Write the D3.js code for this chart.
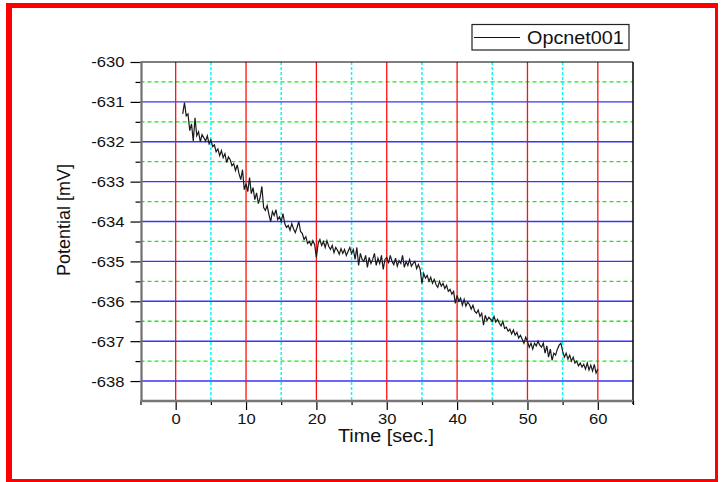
<!DOCTYPE html>
<html>
<head>
<meta charset="utf-8">
<script src="https://cdn.jsdelivr.net/npm/d3@7"></script>
<style>
  body { margin: 0; background: #fff; }
  text { font-family: "Liberation Sans", Arial, sans-serif; fill: #111; }
</style>
</head>
<body>
<script>
// sampled potential, one value every 0.25 s starting at t = 1 s
var startTime = 1,
    timeStep  = 0.25;

var potential = [
  -631.30, -631.02, -631.35, -631.30,
  -631.72, -631.55, -631.98, -631.40,
  -631.85, -631.75, -632.00, -631.82,
  -631.90, -631.98, -631.85, -632.05,
  -631.95, -632.12, -632.08, -632.25,
  -632.18, -632.35, -632.22, -632.40,
  -632.30, -632.52, -632.38, -632.45,
  -632.60, -632.55, -632.72, -632.58,
  -632.80, -632.95, -632.70, -633.20,
  -633.05, -633.25, -632.90, -633.30,
  -633.15, -633.45, -633.28, -633.55,
  -633.40, -633.12, -633.65, -633.72,
  -633.60, -633.82, -634.00, -633.75,
  -633.85, -633.70, -633.95, -633.88,
  -634.00, -633.80, -634.05, -634.15,
  -634.10, -634.22, -634.05, -634.18,
  -634.28, -634.15, -634.00, -634.25,
  -634.30, -634.45, -634.38, -634.55,
  -634.50, -634.60, -634.48, -634.58,
  -634.90, -634.55, -634.45, -634.60,
  -634.50, -634.65, -634.48, -634.62,
  -634.70, -634.60, -634.78, -634.65,
  -634.72, -634.82, -634.68, -634.80,
  -634.70, -634.85, -634.75, -634.65,
  -634.80, -634.70, -634.95, -634.65,
  -635.10, -634.80, -634.95, -635.00,
  -634.85, -635.15, -634.90, -635.05,
  -634.95, -634.80, -635.10, -634.92,
  -635.05, -634.85, -635.20, -634.95,
  -634.90, -635.05, -634.85, -635.00,
  -635.08, -634.92, -635.12, -634.98,
  -635.05, -634.85, -635.15, -635.00,
  -635.10, -634.95, -635.12, -635.05,
  -635.00, -635.18, -635.08, -635.20,
  -635.55, -635.30, -635.42, -635.35,
  -635.50, -635.40, -635.55, -635.45,
  -635.58, -635.65, -635.50, -635.62,
  -635.55, -635.68, -635.60, -635.75,
  -635.70, -635.82, -635.75, -636.05,
  -635.85, -636.00, -635.92, -636.10,
  -635.95, -636.12, -636.02, -636.08,
  -636.20, -636.10, -636.25, -636.30,
  -636.22, -636.38, -636.30, -636.60,
  -636.35, -636.48, -636.40, -636.45,
  -636.50, -636.38, -636.52, -636.45,
  -636.55, -636.62, -636.50, -636.68,
  -636.65, -636.75, -636.70, -636.82,
  -636.72, -636.85, -636.78, -636.92,
  -636.85, -636.95, -637.05, -636.90,
  -637.00, -637.15, -637.05, -637.20,
  -637.05, -637.12, -637.00, -637.10,
  -637.15, -637.05, -637.30, -637.12,
  -637.40, -637.20, -637.48, -637.30,
  -637.35, -637.20, -637.10, -637.05,
  -637.25, -637.40, -637.30, -637.45,
  -637.35, -637.50, -637.40, -637.55,
  -637.50, -637.62, -637.55, -637.65,
  -637.58, -637.70, -637.55, -637.72,
  -637.60, -637.75, -637.58, -637.80,
  -637.70
];

var xMajor = [0, 10, 20, 30, 40, 50, 60];
var xMinor = [-5, 5, 15, 25, 35, 45, 55, 65];
var yMajor = [-630, -631, -632, -633, -634, -635, -636, -637, -638];
var yMinor = [-630.5, -631.5, -632.5, -633.5, -634.5, -635.5, -636.5, -637.5];

var seriesName = "Opcnet001",
    xTitle = "Time [sec.]",
    yTitle = "Potential [mV]";

var width   = 723,
    height  = 482,
    pLeft   = 140.5,
    pRight  = 633,
    pTop    = 62,
    pBottom = 401,
    stretch = "scale(1.07,1)";

const svg = d3.select("body")
    .append("svg")
    .attr("width", width)
    .attr("height", height);

// red frame round the page
svg.append("rect").attr("x", 6).attr("y", 3).attr("width", 6).attr("height", 479).attr("fill", "#ff0000");
svg.append("rect").attr("x", 6).attr("y", 3).attr("width", 712).attr("height", 5).attr("fill", "#ff0000");
svg.append("rect").attr("x", 715).attr("y", 3).attr("width", 3).attr("height", 479).attr("fill", "#ff0000");
svg.append("rect").attr("x", 6).attr("y", 479).attr("width", 712).attr("height", 3).attr("fill", "#ff0000");

const x = d3.scaleLinear().domain([-5, 65]).range([pLeft, pRight]);
const y = d3.scaleLinear().domain([-638.5, -630]).range([pBottom, pTop]);

const data = potential.map((v, i) => ({t: startTime + i * timeStep, v: v}));

// grid
var grid = svg.append("g");
grid.selectAll(".ymin").data(yMinor).join("line")
    .attr("x1", pLeft).attr("x2", pRight)
    .attr("y1", d => y(d)).attr("y2", d => y(d))
    .style("stroke", "#11f011").style("stroke-width", 1.3)
    .style("stroke-dasharray", "4,3");
grid.selectAll(".xmin").data(xMinor.filter(d => d > -5 && d < 65)).join("line")
    .attr("x1", d => x(d)).attr("x2", d => x(d))
    .attr("y1", pTop).attr("y2", pBottom)
    .style("stroke", "#00ffff").style("stroke-width", 1.5)
    .style("stroke-dasharray", "3,2");
grid.selectAll(".ymaj").data(yMajor.filter(d => d < -630)).join("line")
    .attr("x1", pLeft).attr("x2", pRight)
    .attr("y1", d => y(d)).attr("y2", d => y(d))
    .style("stroke", "#3535ff").style("stroke-width", 1.4);
grid.selectAll(".xmaj").data(xMajor).join("line")
    .attr("x1", d => x(d)).attr("x2", d => x(d))
    .attr("y1", pTop).attr("y2", pBottom)
    .style("stroke", "#ff1010").style("stroke-width", 1.3);

// data line
svg.append("path")
    .datum(data)
    .attr("fill", "none")
    .attr("stroke", "#1a1a1a")
    .attr("stroke-width", 1.2)
    .attr("d", d3.line().x(d => x(d.t)).y(d => y(d.v)));

// top and right frame
svg.append("line").attr("x1", pLeft).attr("x2", pRight).attr("y1", pTop).attr("y2", pTop)
    .style("stroke", "#000").style("stroke-width", 1.2);
svg.append("line").attr("x1", pRight).attr("x2", pRight).attr("y1", pTop).attr("y2", pBottom + 3)
    .style("stroke", "#000").style("stroke-width", 1.5);

// axes
function styleAxis(g) {
    g.select(".domain").remove();
    g.selectAll(".tick line").style("stroke", "#000").style("stroke-width", 1.2);
    g.selectAll("text").style("font-size", "15.5px").attr("fill", "#111")
        .attr("transform", stretch);
}

svg.append("g")
    .attr("transform", `translate(${pLeft},0)`)
    .call(d3.axisLeft(y).tickValues(yMinor).tickSize(5).tickFormat(""))
    .call(styleAxis);
svg.append("g")
    .attr("transform", `translate(${pLeft},0)`)
    .call(d3.axisLeft(y).tickValues(yMajor).tickSize(10).tickPadding(5).tickFormat(d => String(d)))
    .call(styleAxis);

svg.append("g")
    .attr("transform", `translate(0,${pBottom})`)
    .call(d3.axisBottom(x).tickValues(xMinor).tickSize(4).tickFormat(""))
    .call(styleAxis);
svg.append("g")
    .attr("transform", `translate(0,${pBottom})`)
    .call(d3.axisBottom(x).tickValues(xMajor).tickSize(9).tickPadding(3).tickFormat(d => String(d)))
    .call(styleAxis);

// gray axis lines
svg.append("line").attr("x1", pLeft + 1).attr("x2", pLeft + 1).attr("y1", pTop).attr("y2", pBottom + 1)
    .style("stroke", "#707070").style("stroke-width", 2.2);
svg.append("line").attr("x1", pLeft).attr("x2", pRight).attr("y1", pBottom).attr("y2", pBottom)
    .style("stroke", "#777").style("stroke-width", 2.4);

// titles
svg.append("text")
    .attr("transform", `translate(386,442) ${stretch}`)
    .attr("text-anchor", "middle")
    .style("font-size", "18.5px")
    .text(xTitle);
svg.append("text")
    .attr("transform", "translate(70,220) rotate(-90)")
    .attr("text-anchor", "middle")
    .style("font-size", "18px")
    .text(yTitle);

// legend
var legend = svg.append("g");
legend.append("rect")
    .attr("x", 472).attr("y", 24.5).attr("width", 157).attr("height", 25.5)
    .attr("fill", "#fff").attr("stroke", "#222").attr("stroke-width", 1.2);
legend.append("line")
    .attr("x1", 474).attr("x2", 520).attr("y1", 37.5).attr("y2", 37.5)
    .style("stroke", "#111").style("stroke-width", 1);
legend.append("text")
    .attr("transform", `translate(527,43.5) ${stretch}`)
    .style("font-size", "18.5px")
    .text(seriesName);
</script>
</body>
</html>
